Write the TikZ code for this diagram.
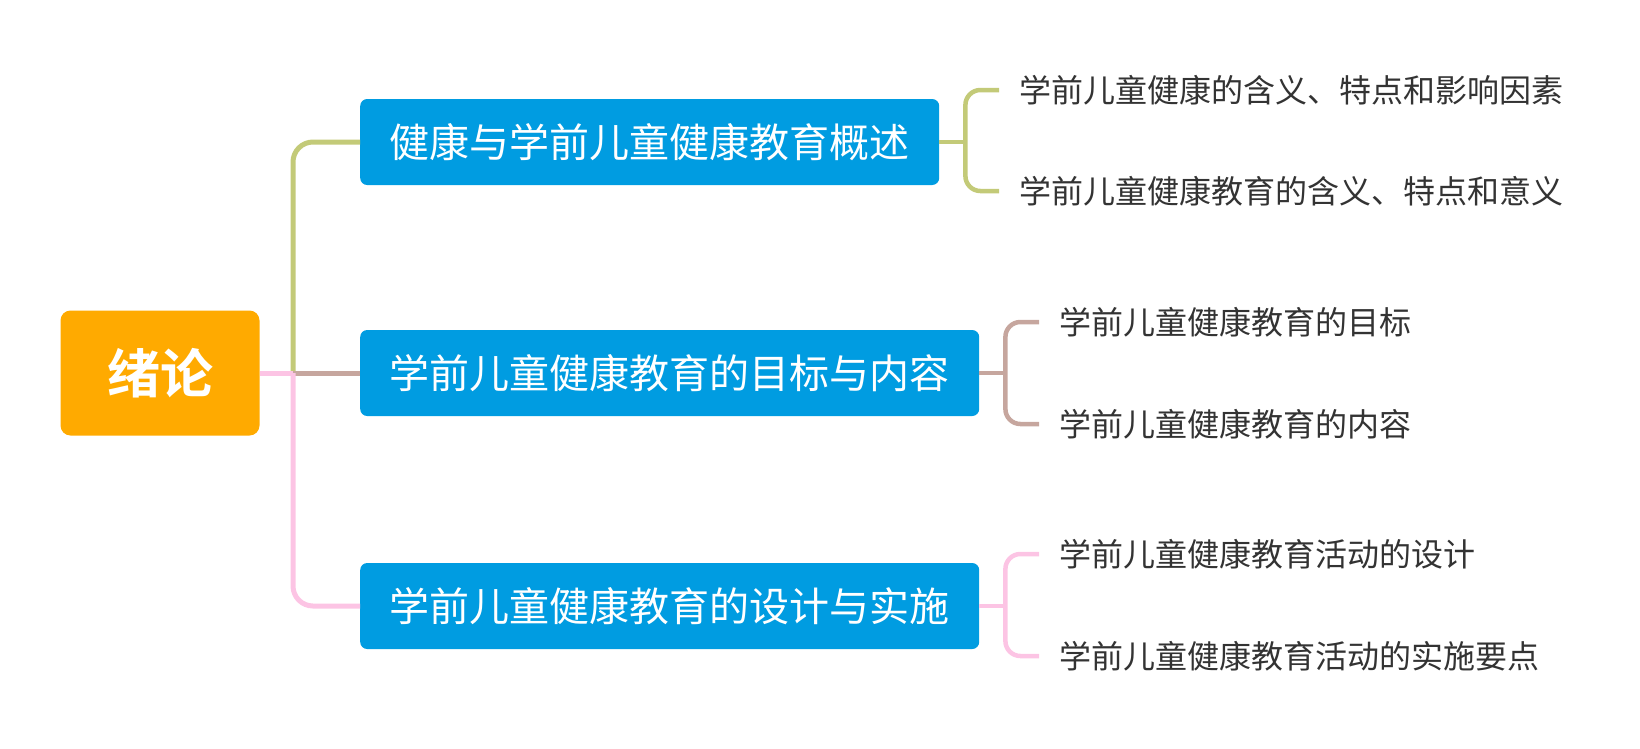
\documentclass[tikz,border=0pt]{standalone}
\usepackage{fontspec}
\setmainfont{Noto Sans CJK SC}[BoldFont={Noto Sans CJK SC Bold}]
\usepackage{xcolor}
\usepackage{tikz}
\usetikzlibrary{positioning, calc}
\definecolor{topicblue}{RGB}{0,156,225}
\definecolor{rootorange}{RGB}{255,170,0}
\definecolor{linegreen}{RGB}{195,202,120}
\definecolor{linebrown}{RGB}{198,166,158}
\definecolor{linepink}{RGB}{252,196,228}
\definecolor{leafgray}{RGB}{51,51,51}

\begin{document}
\begin{tikzpicture}[x=1pt, y=-1pt,
    rootbox/.style={rectangle, rounded corners=10pt, fill=rootorange, text=white,
                    minimum width=199pt, minimum height=125pt, inner sep=0pt,
                    font=\fontsize{53}{62}\selectfont\bfseries},
    topic/.style={rectangle, rounded corners=7pt, fill=topicblue, text=white,
                  minimum height=86pt, inner sep=0pt,
                  font=\fontsize{40}{48}\selectfont},
    leaf/.style={anchor=west, inner xsep=20pt, inner ysep=0pt, text=leafgray,
                 font=\fontsize{32}{38}\selectfont},
    branch/.style={line width=5pt, rounded corners=20pt},
    bracket/.style={line width=4.5pt, rounded corners=15pt}
  ]
    \useasboundingbox (0,0) rectangle (1640,748);

    % root and main topics
    \node[rootbox] at (160,373) (root) {绪论};
    \node[topic, anchor=west, minimum width=579pt] at (360,142) (sum)
      {健康与学前儿童健康教育概述};
    \node[topic, anchor=west, minimum width=619pt] at (360,373) (goal)
      {学前儿童健康教育的目标与内容};
    \node[topic, anchor=west, minimum width=619pt] at (360,606) (impl)
      {学前儿童健康教育的设计与实施};

    % sub topics
    \node[leaf] at (999,90) (sumA) {学前儿童健康的含义、特点和影响因素};
    \node[leaf] at (999,191) (sumB) {学前儿童健康教育的含义、特点和意义};
    \node[leaf] at (1039,322) (goalA) {学前儿童健康教育的目标};
    \node[leaf] at (1039,424) (goalB) {学前儿童健康教育的内容};
    \node[leaf] at (1039,554) (implA) {学前儿童健康教育活动的设计};
    \node[leaf] at (1039,656) (implB) {学前儿童健康教育活动的实施要点};

    \coordinate (spine) at (293,373);

    % main branches
    \draw[branch, linegreen] (spine) |- (sum.west);
    \draw[branch, linebrown] (spine) -- (goal.west);
    \draw[branch, linepink] (spine) |- (impl.west);
    \draw[branch, linepink] (root.east) -- (spine);

    % brackets
    \draw[bracket, linegreen] (sum.east) -- ++(26,0) coordinate (sumfork);
    \draw[bracket, linegreen] (sumA.west) -| (sumfork) |- (sumB.west);
    \draw[bracket, linebrown] (goal.east) -- ++(26,0) coordinate (goalfork);
    \draw[bracket, linebrown] (goalA.west) -| (goalfork) |- (goalB.west);
    \draw[bracket, linepink] (impl.east) -- ++(26,0) coordinate (implfork);
    \draw[bracket, linepink] (implA.west) -| (implfork) |- (implB.west);
\end{tikzpicture}
\end{document}
